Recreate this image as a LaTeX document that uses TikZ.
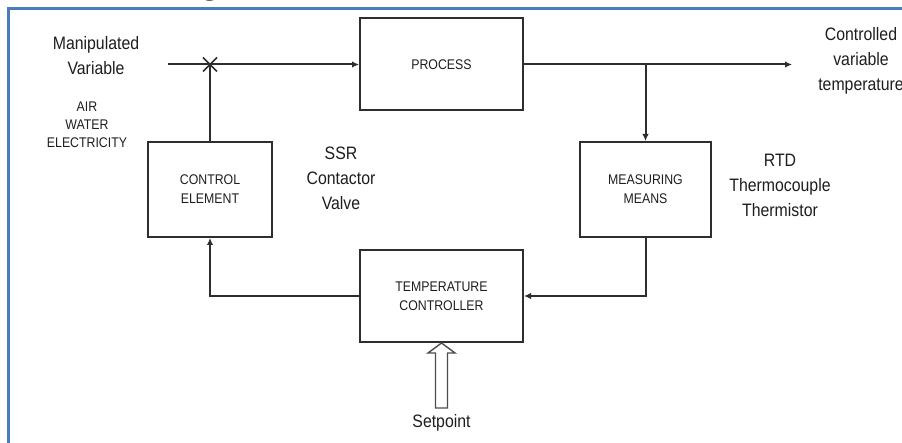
\documentclass[tikz,border=0pt]{standalone}
\usepackage{fontspec}
\setmainfont{Liberation Sans}
\newfontfamily\cond[FakeStretch=0.88]{Liberation Sans}
\newfontfamily\headserif{Liberation Serif}
\usetikzlibrary{arrows.meta,calc}
\definecolor{ln}{HTML}{2E2E2E}
\definecolor{bord}{HTML}{4A7EBB}
\definecolor{tx}{HTML}{1E1E1E}
\tikzset{
 blk/.style={draw=ln, line width=2pt, inner sep=0pt, text=tx, align=center,
   font=\cond\fontsize{14}{19}\selectfont},
 lbl/.style={text=tx, align=center, inner sep=0pt, font=\cond\fontsize{18}{25}\selectfont},
 sml/.style={text=tx, align=center, inner sep=0pt, font=\cond\fontsize{14}{18}\selectfont},
 wire/.style={draw=ln, line width=2pt},
 arr/.style={wire, -{Latex[length=7pt,width=6.5pt]}},
}
\begin{document}
\begin{tikzpicture}[x=1pt,y=-1pt]
\useasboundingbox (0,0) rectangle (902,443);
\fill[white] (0,0) rectangle (902,443);

% cut heading
\node[anchor=base, inner sep=0pt, font=\headserif\bfseries\fontsize{30}{30}\selectfont] (head) at (210,-5) {g};
% frame
\draw[bord, line width=3pt, line join=miter] (8,446) -- (8,9) -- (905,9);

% blocks
\node[blk, minimum width=163pt, minimum height=92pt] (proc) at (441.5,64.5) {PROCESS};
\node[blk, minimum width=124pt, minimum height=95pt] (ctrl) at (210,189.5) {CONTROL\\ELEMENT};
\node[blk, minimum width=131pt, minimum height=95pt] (meas) at (645.5,189.5) {MEASURING\\MEANS};
\node[blk, minimum width=163pt, minimum height=92pt] (temp) at (441.5,296) {TEMPERATURE\\CONTROLLER};

% labels
\node[lbl] (manip) at (96,56) {Manipulated\\Variable};
\node[sml] (media) at (87,125) {AIR\\WATER\\ELECTRICITY};
\node[lbl] (ssr) at (341,178) {SSR\\Contactor\\Valve};
\node[lbl] (rtd) at (780,185) {RTD\\Thermocouple\\Thermistor};
\node[lbl] (cv) at (861,60.5) {Controlled\\variable\\temperature};
\node[lbl] (sp) at (441.5,423) {Setpoint};

% connectors
\coordinate (mvstart) at (168,64.5);
\coordinate (outend) at (792,64.5);
\coordinate (xm) at (ctrl.north |- mvstart);
\coordinate (br) at (meas.north |- proc.east);
\draw[arr] (mvstart) -- (proc.west);
\draw[wire] (ctrl.north) -- (xm);
\draw[wire, line width=1.5pt] (xm) +(-7,-7) -- +(7,7) (xm) +(-7,7) -- +(7,-7);
\draw[arr] (proc.east) -- (outend);
\draw[arr] (br) -- (meas.north);
\draw[arr] (meas.south) |- (temp.east);
\draw[arr] (temp.west) -| (ctrl.south);

% setpoint hollow arrow
\draw[draw=ln!85, line width=1.4pt, fill=white, line join=miter]
  (temp.south) -- ++(-13.5,10) -- ++(7.5,0) -- ++(0,55) -- ++(12,0) -- ++(0,-55) -- ++(7.5,0) -- cycle;
\end{tikzpicture}
\end{document}
